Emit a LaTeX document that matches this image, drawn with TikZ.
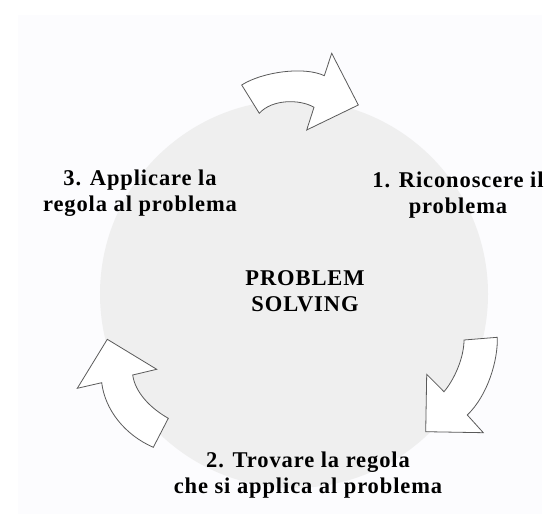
\documentclass[tikz,border=0pt]{standalone}
\usepackage{fontspec}
\setmainfont{Liberation Serif}[LetterSpace=4]
\definecolor{circlegray}{RGB}{239,239,239}
\definecolor{pagetint}{RGB}{252,252,254}
\definecolor{edgegray}{RGB}{90,90,90}
\begin{document}
\begin{tikzpicture}[x=1pt,y=-1pt,
  arrowshape/.style={fill=white, draw=edgegray, line width=0.8pt, line join=miter},
  txt/.style={font=\bfseries\fontsize{22.5}{25.5}\selectfont, text=black, align=center, inner sep=0pt}]
\useasboundingbox (0,0) rectangle (556,529);
\fill[white] (0,0) rectangle (556,529);
\fill[pagetint] (18,15) rectangle (542,514);
\fill[circlegray] (294,294) circle[radius=194pt];
% top arrow
\draw[arrowshape] (241.7,85) .. controls (262,72) and (304,66) .. (324.3,75.7) -- (331.7,53.3) -- (358.3,105) -- (306.7,130) -- (314,107.3) .. controls (300,99) and (272,99) .. (259.3,113.3) -- cycle;
% right arrow
\draw[arrowshape] (464,340) -- (497.3,337.3) .. controls (498,360) and (488,395) .. (467.3,415) -- (483.3,432.7) -- (425.7,431.7) -- (426.7,374.3) -- (444,391.7) .. controls (454,380) and (464,358) .. (464,340) -- cycle;
% left arrow
\draw[arrowshape] (107.3,339.3) -- (156.7,369.3) -- (132.7,375) .. controls (135,392) and (150,408) .. (168.3,418.3) -- (153.3,447.3) .. controls (125,435) and (105,410) .. (101.7,382.7) -- (77.3,388.3) -- cycle;
% texts
\node[txt] (t1) at (458,195) {1. Riconoscere il\\problema};
\node[txt] (t2) at (308,475) {2. Trovare la regola\\che si applica al problema};
\node[txt] (t3) at (140,193) {3. Applicare la\\regola al problema};
\node[txt] (c) at (305,291) {PROBLEM\\SOLVING};
\end{tikzpicture}
\end{document}
